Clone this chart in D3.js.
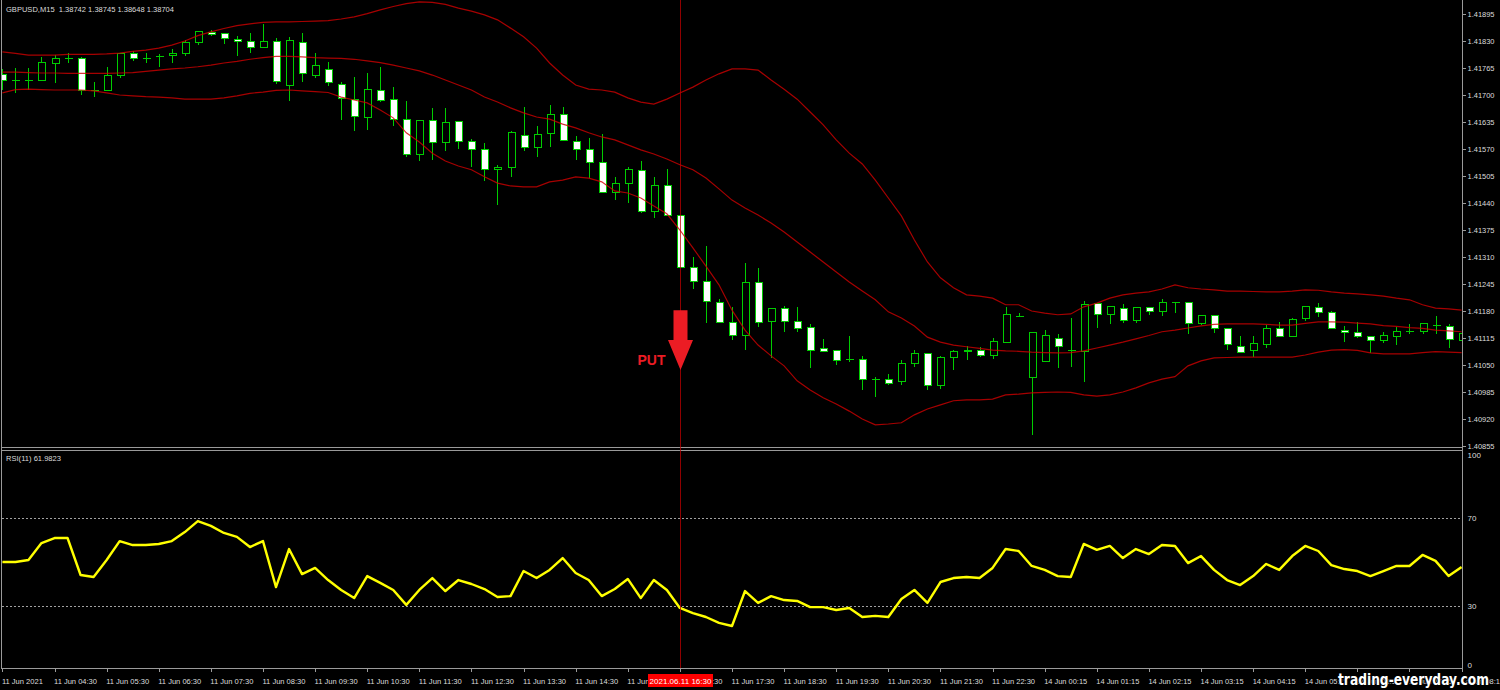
<!DOCTYPE html>
<html><head><meta charset="utf-8">
<script src="https://cdn.jsdelivr.net/npm/d3@7"></script>
<style>body{margin:0;background:#000;overflow:hidden}svg{display:block}</style>
</head><body>
<svg id="c" width="1500" height="690"></svg>
<script>
// ---------- DATA ----------
const symbolInfo = "GBPUSD,M15  1.38742 1.38745 1.38648 1.38704";
const rsiInfo = "RSI(11) 61.9823";
const opens = [1.41750,1.41734,1.41735,1.41735,1.41776,1.41788,1.41788,1.41712,1.41710,1.41748,
1.41800,1.41790,1.41792,1.41794,1.41800,1.41826,1.41851,1.41847,1.41834,1.41830,
1.41815,1.41828,1.41724,1.41826,1.41746,1.41762,1.41726,1.41690,1.41646,1.41710,
1.41690,1.41640,1.41556,1.41638,1.41585,1.41636,1.41589,1.41568,1.41521,1.41526,
1.41602,1.41574,1.41608,1.41654,1.41589,1.41569,1.41538,1.41466,1.41488,1.41518,
1.41419,1.41481,1.41411,1.41285,1.41251,1.41200,1.41152,1.41122,1.41248,1.41154,
1.41186,1.41154,1.41141,1.41089,1.41085,1.41064,1.41064,1.41016,1.41016,1.41010,
1.41054,1.41077,1.41000,1.41069,1.41082,1.41086,1.41074,1.41105,1.41170,1.41021,
1.41058,1.41114,1.41084,1.41082,1.41197,1.41172,1.41187,1.41158,1.41189,1.41178,
1.41200,1.41200,1.41150,1.41168,1.41138,1.41094,1.41084,1.41100,1.41138,1.41118,
1.41161,1.41188,1.41177,1.41134,1.41129,1.41118,1.41108,1.41118,1.41130,1.41130,
1.41145,1.41142,1.41109];
const highs = [1.41763,1.41766,1.41764,1.41792,1.41796,1.41800,1.41791,1.41732,1.41768,1.41800,
1.41807,1.41800,1.41799,1.41810,1.41832,1.41852,1.41857,1.41847,1.41842,1.41850,
1.41871,1.41837,1.41840,1.41849,1.41800,1.41780,1.41732,1.41744,1.41752,1.41767,
1.41719,1.41686,1.41638,1.41668,1.41668,1.41636,1.41593,1.41584,1.41532,1.41613,
1.41672,1.41625,1.41676,1.41670,1.41601,1.41596,1.41606,1.41503,1.41526,1.41540,
1.41502,1.41521,1.41411,1.41309,1.41337,1.41208,1.41189,1.41295,1.41283,1.41186,
1.41192,1.41189,1.41149,1.41112,1.41086,1.41120,1.41072,1.41022,1.41028,1.41061,
1.41085,1.41080,1.41072,1.41086,1.41096,1.41094,1.41114,1.41189,1.41175,1.41128,
1.41134,1.41124,1.41162,1.41205,1.41197,1.41190,1.41197,1.41188,1.41189,1.41208,
1.41201,1.41202,1.41170,1.41171,1.41138,1.41120,1.41120,1.41146,1.41153,1.41162,
1.41190,1.41200,1.41181,1.41145,1.41154,1.41118,1.41129,1.41142,1.41148,1.41150,
1.41168,1.41148,1.41142];
const lows = [1.41712,1.41704,1.41712,1.41735,1.41728,1.41776,1.41700,1.41696,1.41710,1.41740,
1.41783,1.41776,1.41767,1.41778,1.41794,1.41820,1.41842,1.41823,1.41794,1.41800,
1.41812,1.41727,1.41686,1.41732,1.41740,1.41722,1.41640,1.41614,1.41616,1.41684,
1.41625,1.41550,1.41540,1.41544,1.41566,1.41569,1.41527,1.41494,1.41435,1.41502,
1.41566,1.41550,1.41576,1.41590,1.41544,1.41500,1.41466,1.41447,1.41439,1.41415,
1.41403,1.41411,1.41285,1.41232,1.41150,1.41152,1.41109,1.41086,1.41142,1.41066,
1.41130,1.41130,1.41042,1.41082,1.41050,1.41058,1.40990,1.40974,1.41001,1.41002,
1.41045,1.40990,1.40992,1.41038,1.41062,1.41069,1.41065,1.41103,1.41166,1.40882,
1.41058,1.41042,1.41046,1.41010,1.41138,1.41148,1.41152,1.41152,1.41171,1.41168,
1.41176,1.41124,1.41146,1.41126,1.41086,1.41078,1.41070,1.41092,1.41117,1.41118,
1.41156,1.41166,1.41137,1.41105,1.41114,1.41078,1.41104,1.41097,1.41124,1.41124,
1.41124,1.41090,1.41098];
const closes = [1.41734,1.41735,1.41736,1.41778,1.41788,1.41789,1.41710,1.41713,1.41748,1.41800,
1.41788,1.41790,1.41793,1.41800,1.41826,1.41852,1.41846,1.41837,1.41830,1.41815,
1.41828,1.41732,1.41831,1.41751,1.41770,1.41730,1.41692,1.41648,1.41714,1.41686,
1.41640,1.41556,1.41638,1.41585,1.41634,1.41589,1.41568,1.41521,1.41525,1.41609,
1.41574,1.41605,1.41652,1.41590,1.41569,1.41537,1.41466,1.41488,1.41521,1.41419,
1.41483,1.41411,1.41285,1.41251,1.41202,1.41152,1.41122,1.41248,1.41152,1.41186,
1.41154,1.41138,1.41086,1.41082,1.41061,1.41065,1.41014,1.41016,1.41006,1.41053,
1.41078,1.41000,1.41069,1.41082,1.41086,1.41074,1.41106,1.41172,1.41167,1.41128,
1.41122,1.41094,1.41085,1.41195,1.41172,1.41190,1.41157,1.41188,1.41178,1.41201,
1.41201,1.41150,1.41170,1.41137,1.41100,1.41081,1.41102,1.41137,1.41118,1.41160,
1.41190,1.41177,1.41137,1.41129,1.41118,1.41109,1.41121,1.41130,1.41131,1.41150,
1.41146,1.41112,1.41125];
const bbUpper = [1.41804,1.41800,1.41796,1.41796,1.41796,1.41798,1.41798,1.41798,1.41799,1.41801,
1.41805,1.41808,1.41813,1.41820,1.41830,1.41843,1.41852,1.41860,1.41867,1.41871,
1.41875,1.41876,1.41876,1.41877,1.41878,1.41879,1.41883,1.41888,1.41896,1.41905,
1.41913,1.41920,1.41924,1.41923,1.41918,1.41909,1.41902,1.41893,1.41881,1.41861,
1.41840,1.41813,1.41777,1.41748,1.41724,1.41714,1.41712,1.41707,1.41693,1.41683,
1.41678,1.41690,1.41705,1.41719,1.41736,1.41751,1.41763,1.41763,1.41760,1.41736,
1.41714,1.41690,1.41659,1.41628,1.41592,1.41560,1.41534,1.41495,1.41452,1.41409,
1.41351,1.41298,1.41260,1.41236,1.41219,1.41216,1.41211,1.41195,1.41195,1.41180,
1.41175,1.41171,1.41173,1.41190,1.41199,1.41211,1.41219,1.41223,1.41226,1.41233,
1.41243,1.41236,1.41233,1.41231,1.41228,1.41228,1.41227,1.41226,1.41226,1.41228,
1.41231,1.41230,1.41226,1.41223,1.41221,1.41219,1.41216,1.41211,1.41207,1.41195,
1.41187,1.41185,1.41182];
const bbMiddle = [1.41755,1.41755,1.41754,1.41753,1.41753,1.41752,1.41752,1.41752,1.41752,1.41753,
1.41754,1.41757,1.41760,1.41763,1.41765,1.41768,1.41772,1.41777,1.41781,1.41786,
1.41790,1.41793,1.41793,1.41792,1.41790,1.41789,1.41788,1.41786,1.41782,1.41778,
1.41772,1.41765,1.41758,1.41748,1.41736,1.41724,1.41712,1.41695,1.41683,1.41669,
1.41657,1.41647,1.41642,1.41630,1.41621,1.41609,1.41599,1.41592,1.41580,1.41568,
1.41558,1.41546,1.41532,1.41520,1.41500,1.41474,1.41447,1.41428,1.41411,1.41392,
1.41370,1.41346,1.41322,1.41298,1.41274,1.41250,1.41228,1.41207,1.41178,1.41163,
1.41144,1.41117,1.41105,1.41098,1.41094,1.41090,1.41086,1.41084,1.41083,1.41081,
1.41080,1.41079,1.41080,1.41084,1.41091,1.41098,1.41105,1.41113,1.41121,1.41130,
1.41134,1.41139,1.41144,1.41148,1.41149,1.41149,1.41149,1.41148,1.41146,1.41146,
1.41150,1.41154,1.41154,1.41153,1.41151,1.41149,1.41145,1.41143,1.41140,1.41138,
1.41134,1.41132,1.41130];
const bbLower = [1.41705,1.41713,1.41714,1.41713,1.41712,1.41712,1.41712,1.41710,1.41705,1.41700,
1.41698,1.41696,1.41695,1.41693,1.41690,1.41690,1.41690,1.41693,1.41698,1.41704,
1.41707,1.41711,1.41712,1.41710,1.41708,1.41706,1.41695,1.41688,1.41681,1.41664,
1.41645,1.41609,1.41587,1.41560,1.41541,1.41529,1.41520,1.41503,1.41488,1.41481,
1.41479,1.41479,1.41491,1.41495,1.41503,1.41500,1.41491,1.41469,1.41464,1.41452,
1.41433,1.41414,1.41375,1.41332,1.41288,1.41243,1.41182,1.41134,1.41098,1.41072,
1.41048,1.41012,1.40990,1.40971,1.40956,1.40939,1.40920,1.40906,1.40908,1.40911,
1.40930,1.40944,1.40954,1.40964,1.40966,1.40966,1.40968,1.40978,1.40980,1.40983,
1.40984,1.40985,1.40984,1.40978,1.40975,1.40978,1.40985,1.40995,1.41007,1.41016,
1.41022,1.41048,1.41060,1.41067,1.41068,1.41069,1.41069,1.41069,1.41069,1.41069,
1.41074,1.41081,1.41086,1.41087,1.41085,1.41079,1.41077,1.41077,1.41077,1.41080,
1.41082,1.41081,1.41080];
const rsiValues = [50.0,50.0,50.9,58.6,60.9,60.9,44.1,43.2,50.9,59.5,
57.7,57.7,58.2,59.5,63.6,68.6,66.4,63.2,61.4,56.8,
59.5,38.6,55.9,44.5,47.3,41.8,37.3,33.6,43.6,40.5,
37.3,30.5,37.3,42.7,36.8,41.8,40.0,37.7,34.1,34.5,
45.9,42.7,46.4,51.8,45.0,41.8,34.5,37.7,42.3,33.6,
41.8,37.3,29.1,26.8,25.0,22.3,20.9,36.8,31.4,34.5,
32.7,32.3,29.5,29.5,28.2,29.1,25.0,25.5,25.0,33.2,
37.3,31.4,40.9,42.7,43.2,42.7,47.3,55.9,55.0,48.2,
46.4,43.6,43.2,58.2,55.5,57.3,51.8,55.9,53.6,57.7,
57.3,49.5,52.7,46.4,41.8,39.5,43.6,49.1,46.4,52.7,
57.3,55.0,48.6,46.8,45.9,43.6,45.9,48.2,48.2,53.2,
50.5,43.6,47.7];
const priceTicks = [1.41895,1.41830,1.41765,1.41700,1.41635,1.41570,1.41505,1.41440,1.41375,
1.41310,1.41245,1.41180,1.41115,1.41050,1.40985,1.40920,1.40855];
const rsiTicks = [100,70,30,0];
const rsiLevels = [70,30];
const timeLabels = ["11 Jun 2021","11 Jun 04:30","11 Jun 05:30","11 Jun 06:30","11 Jun 07:30",
"11 Jun 08:30","11 Jun 09:30","11 Jun 10:30","11 Jun 11:30","11 Jun 12:30","11 Jun 13:30",
"11 Jun 14:30","11 Jun 15:30","11 Jun 16:30","11 Jun 17:30","11 Jun 18:30","11 Jun 19:30",
"11 Jun 20:30","11 Jun 21:30","11 Jun 22:30","14 Jun 00:15","14 Jun 01:15","14 Jun 02:15",
"14 Jun 03:15","14 Jun 04:15","14 Jun 05:15","14 Jun 06:15","14 Jun 07:15","14 Jun 08:15"];
const timeLabelBars = [0,4,8,12,16,20,24,28,32,36,40,44,48,52,56,60,64,68,72,76,80,84,88,92,96,100,104,108,112];
const signalBar = 52;
const signalTime = "2021.06.11 16:30";
const signalText = "PUT";
const arrowTop = 1.41182, arrowTip = 1.41038;
const watermark = "trading-everyday.com";

// ---------- SCALES ----------
const svg = d3.select("#c");
const n = opens.length;
const x = d3.scaleLinear().domain([0, n-1]).range([2.4, 1461.6]);
const y = d3.scaleLinear().domain([1.40855, 1.41895]).range([446, 14]);
const yr = d3.scaleLinear().domain([0, 100]).range([672, 452]);
const plotL = 2, plotR = 1462;
const axisCol = "#9a9a9a", txtCol = "#dcdcdc";
const green = "#00cc00";

svg.append("rect").attr("width",1500).attr("height",690).attr("fill","#000");
const defs = svg.append("defs");
defs.append("clipPath").attr("id","cm").append("rect").attr("x",plotL).attr("y",1).attr("width",plotR-plotL).attr("height",446);
defs.append("clipPath").attr("id","cr").append("rect").attr("x",plotL).attr("y",451).attr("width",plotR-plotL).attr("height",217);

// ---------- MAIN PANEL ----------
const gm = svg.append("g").attr("clip-path","url(#cm)");
const idx = d3.range(n);
gm.selectAll("line.wick").data(idx).join("line")
  .attr("x1",i=>Math.round(x(i))+0.5).attr("x2",i=>Math.round(x(i))+0.5)
  .attr("y1",i=>y(highs[i])).attr("y2",i=>y(lows[i]))
  .attr("stroke",green).attr("stroke-width",1).attr("shape-rendering","crispEdges");
gm.selectAll("rect.body").data(idx.filter(i=>Math.abs(y(opens[i])-y(closes[i]))>=1.5)).join("rect")
  .attr("x",i=>Math.round(x(i))-3)
  .attr("y",i=>Math.min(y(opens[i]),y(closes[i])))
  .attr("width",7)
  .attr("height",i=>Math.abs(y(opens[i])-y(closes[i])))
  .attr("fill",i=>closes[i]>=opens[i]?"#000":"#ffffff")
  .attr("stroke",green).attr("stroke-width",1).attr("shape-rendering","crispEdges");
gm.selectAll("line.doji").data(idx.filter(i=>Math.abs(y(opens[i])-y(closes[i]))<1.5)).join("line")
  .attr("x1",i=>Math.round(x(i))-3.5).attr("x2",i=>Math.round(x(i))+4.5)
  .attr("y1",i=>Math.round(y(closes[i]))+0.5).attr("y2",i=>Math.round(y(closes[i]))+0.5)
  .attr("stroke",green).attr("stroke-width",1.5).attr("shape-rendering","crispEdges");

const bandLine = arr => d3.line().x((d,i)=>x(i)).y(d=>y(d))(arr);
[bbUpper,bbMiddle,bbLower].forEach(a=>{
  gm.append("path").attr("d",bandLine(a)).attr("fill","none")
    .attr("stroke","#d00000").attr("stroke-opacity",0.8).attr("stroke-width",1.2);
});

// price axis
svg.selectAll("line.pt").data(priceTicks).join("line")
  .attr("x1",plotR).attr("x2",plotR+4).attr("y1",d=>Math.round(y(d))+0.5).attr("y2",d=>Math.round(y(d))+0.5)
  .attr("stroke",axisCol).attr("shape-rendering","crispEdges");
svg.selectAll("text.pt").data(priceTicks).join("text")
  .attr("x",plotR+5.5).attr("y",d=>y(d)+3)
  .attr("fill",txtCol).attr("font-family","Liberation Sans, Arial, sans-serif").attr("font-size",8)
  .attr("textLength",27).attr("lengthAdjust","spacingAndGlyphs")
  .text(d=>d.toFixed(5));

// header
svg.append("text").attr("x",6).attr("y",12).attr("fill",txtCol)
  .attr("font-family","Liberation Sans, Arial, sans-serif").attr("font-size",8)
  .attr("textLength",168).attr("lengthAdjust","spacingAndGlyphs")
  .attr("xml:space","preserve").text(symbolInfo);

// ---------- RSI PANEL ----------
const gr = svg.append("g").attr("clip-path","url(#cr)");
gr.selectAll("line.lvl").data(rsiLevels).join("line")
  .attr("x1",plotL).attr("x2",plotR).attr("y1",d=>Math.round(yr(d))+0.5).attr("y2",d=>Math.round(yr(d))+0.5)
  .attr("stroke","#a0a0a0").attr("stroke-dasharray","2,2").attr("shape-rendering","crispEdges");
gr.append("path").attr("d",d3.line().x((d,i)=>x(i)).y(d=>yr(d))(rsiValues))
  .attr("fill","none").attr("stroke","#ffff00").attr("stroke-width",2.4).attr("stroke-linejoin","round");
svg.append("text").attr("x",6).attr("y",461).attr("fill",txtCol)
  .attr("font-family","Liberation Sans, Arial, sans-serif").attr("font-size",8)
  .attr("textLength",55).attr("lengthAdjust","spacingAndGlyphs").text(rsiInfo);
svg.selectAll("text.rt").data(rsiTicks).join("text")
  .attr("x",plotR+5.5).attr("y",d=>d===100?458:(d===0?668:yr(d)+3))
  .attr("fill",txtCol).attr("font-family","Liberation Sans, Arial, sans-serif").attr("font-size",8)
  .text(d=>d);

// ---------- FRAMES ----------
const frame = svg.append("g").attr("stroke",axisCol).attr("shape-rendering","crispEdges").attr("fill","none");
frame.append("line").attr("x1",1.5).attr("x2",1.5).attr("y1",0).attr("y2",669);
frame.append("line").attr("x1",plotR+0.5).attr("x2",plotR+0.5).attr("y1",0).attr("y2",671);
frame.append("line").attr("x1",1).attr("x2",plotR).attr("y1",447.5).attr("y2",447.5);
frame.append("line").attr("x1",1).attr("x2",plotR).attr("y1",450.5).attr("y2",450.5);
frame.append("line").attr("x1",1).attr("x2",plotR).attr("y1",668.5).attr("y2",668.5);

// ---------- TIME AXIS ----------
svg.selectAll("line.tt").data(timeLabelBars).join("line")
  .attr("x1",i=>Math.round(x(i))+0.5).attr("x2",i=>Math.round(x(i))+0.5).attr("y1",668).attr("y2",672)
  .attr("stroke",axisCol).attr("shape-rendering","crispEdges");
svg.selectAll("text.tt").data(timeLabelBars).join("text")
  .attr("x",i=>x(i)-0.5).attr("y",684)
  .attr("fill",txtCol).attr("font-family","Liberation Sans, Arial, sans-serif").attr("font-size",8)
  .attr("textLength",(i,k)=>k===0?41:43).attr("lengthAdjust","spacingAndGlyphs")
  .text((i,k)=>timeLabels[k]);

// ---------- SIGNAL ----------
const sx = Math.round(x(signalBar))+0.5;
svg.append("line").attr("x1",sx).attr("x2",sx).attr("y1",0).attr("y2",668)
  .attr("stroke","#c00000").attr("stroke-opacity",0.75).attr("stroke-width",1);
svg.append("rect").attr("x",sx-32.5).attr("y",674).attr("width",65).attr("height",13).attr("fill","#ff0000");
svg.append("text").attr("x",sx-31).attr("y",684).attr("fill","#ffffff")
  .attr("font-family","Liberation Sans, Arial, sans-serif").attr("font-size",8)
  .attr("textLength",62).attr("lengthAdjust","spacingAndGlyphs").text(signalTime);
const yt = y(arrowTop), yp = y(arrowTip), ym = yt + (yp-yt)*0.5;
svg.append("path")
  .attr("d",`M${sx-7},${yt} L${sx+7},${yt} L${sx+7},${ym} L${sx+12.5},${ym} L${sx},${yp} L${sx-12.5},${ym} L${sx-7},${ym} Z`)
  .attr("fill","#ec1c24");
svg.append("text").attr("x",sx-29).attr("y",365).attr("text-anchor","middle")
  .attr("fill","#ec1c24").attr("font-family","Liberation Sans, Arial, sans-serif")
  .attr("font-weight","bold").attr("font-size",14).text(signalText);

// ---------- WATERMARK ----------
svg.append("text").attr("x",1338).attr("y",685)
  .attr("fill","#ffffff").attr("stroke","#000").attr("stroke-width",2).attr("paint-order","stroke")
  .attr("font-family","DejaVu Sans, sans-serif").attr("font-weight","bold").attr("font-size",16)
  .attr("textLength",151).attr("lengthAdjust","spacingAndGlyphs").text(watermark);
</script>
</body></html>
